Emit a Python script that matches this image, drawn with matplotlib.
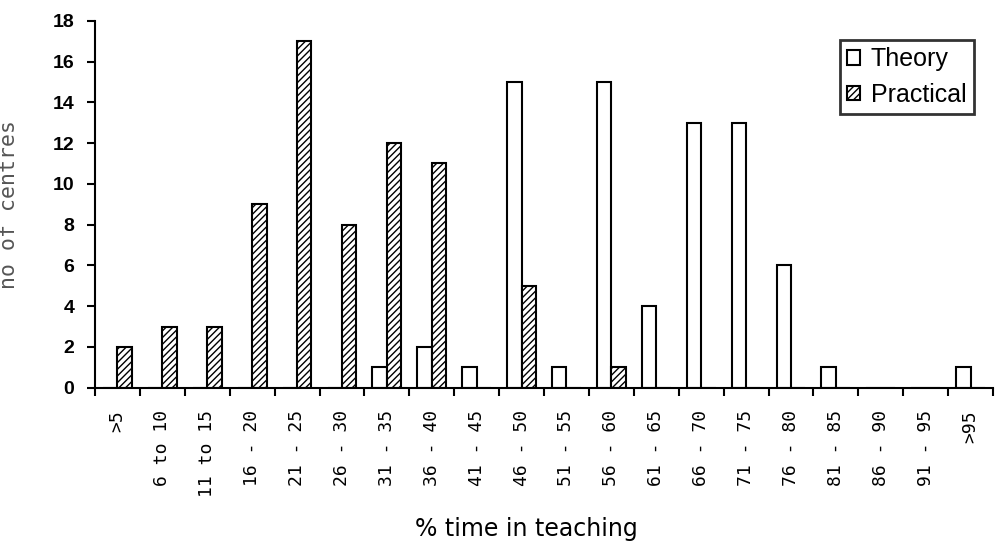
import numpy as np
import matplotlib.pyplot as plt

# categories and values
categories = [">5", "6 to 10", "11 to 15", "16 - 20", "21 - 25", "26 - 30", "31 - 35",
              "36 - 40", "41 - 45", "46 - 50", "51 - 55", "56 - 60", "61 - 65",
              "66 - 70", "71 - 75", "76 - 80", "81 - 85", "86 - 90", "91 - 95", ">95"]
theory = [0, 0, 0, 0, 0, 0, 1, 2, 1, 15, 1, 15, 4, 13, 13, 6, 1, 0, 0, 1]
practical = [2, 3, 3, 9, 17, 8, 12, 11, 0, 5, 0, 1, 0, 0, 0, 0, 0, 0, 0, 0]

plt.rcParams['hatch.linewidth'] = 1.0

fig = plt.figure(figsize=(10, 5.46), dpi=100)
ax = fig.add_axes([0.095, 0.29, 0.898, 0.672])

x = np.arange(len(categories))
w = 0.32
ax.bar(x - w / 2, theory, w, color="white", edgecolor="black", linewidth=1.5, label="Theory")
ax.bar(x + w / 2, practical, w, color="white", edgecolor="black", linewidth=1.5,
       hatch="/////", label="Practical")

ax.set_xlim(-0.5, len(categories) - 0.5)
ax.set_ylim(0, 18)
ax.set_yticks(range(0, 19, 2))
ax.set_yticklabels([str(v) for v in range(0, 19, 2)], fontsize=14, fontweight="bold",
                   family="Liberation Sans")
# boundary ticks between categories, labels in the middle
ax.set_xticks(np.arange(-0.5, len(categories), 1))
ax.set_xticklabels([])
ax.set_xticks(x, minor=True)
ax.set_xticklabels(categories, minor=True, rotation=90, fontsize=13, family="DejaVu Sans Mono")
ax.tick_params(axis="x", which="minor", length=0, pad=16)
ax.tick_params(axis="x", which="major", length=6, width=1.5, direction="out")
ax.tick_params(axis="y", length=6, width=1.5, pad=9)

for s in ["top", "right"]:
    ax.spines[s].set_visible(False)
for s in ["left", "bottom"]:
    ax.spines[s].set_linewidth(1.5)

ax.set_ylabel("no of centres", fontsize=15.5, color="#555555", family="DejaVu Sans Mono")
ax.yaxis.set_label_coords(-0.085, 0.5)
fig.text(0.526, 0.018, "% time in teaching", ha="center", fontsize=17, family="DejaVu Sans")

leg = ax.legend(loc="upper right", bbox_to_anchor=(0.974, 0.927),
                bbox_transform=fig.transFigure, frameon=True, fancybox=False,
                edgecolor="black", handlelength=0.5, handleheight=0.5,
                handletextpad=0.45, borderpad=0.3, labelspacing=0.45, borderaxespad=0,
                prop={"family": "Liberation Sans", "size": 18})
leg.get_frame().set_linewidth(2)

fig.savefig("out.png", dpi=100)
